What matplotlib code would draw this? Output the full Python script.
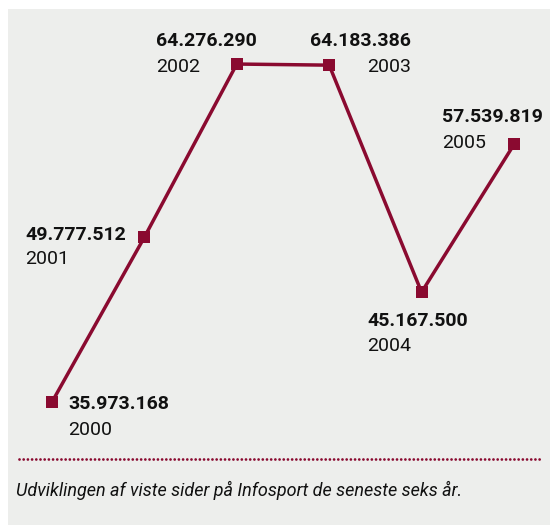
import matplotlib
matplotlib.use("Agg")
import matplotlib.pyplot as plt
from matplotlib.patches import Rectangle
from matplotlib.lines import Line2D

# data: viste sider pr. aar
years = [2000, 2001, 2002, 2003, 2004, 2005]
views = [35973168, 49777512, 64276290, 64183386, 45167500, 57539819]
labels = ["35.973.168", "49.777.512", "64.276.290", "64.183.386", "45.167.500", "57.539.819"]
caption = "Udviklingen af viste sider på Infosport de seneste seks år."

red = "#8a0a30"
plt.rcParams['font.family'] = ['Roboto', 'DejaVu Sans']

fig = plt.figure(figsize=(5.5, 5.25), dpi=100)
fig.patch.set_facecolor("white")

# grå baggrund
fig.patches.append(Rectangle((8 / 550, 0), 1, 1 - 9 / 525, transform=fig.transFigure,
                             facecolor="#edeeec", edgecolor="none", zorder=-5))

ax = fig.add_axes([0, 0, 1, 1])
ax.set_facecolor("none")
ax.axis("off")
ax.set_zorder(2)
ax.set_xlim(1999.437, 2005.39)
ax.set_ylim(25.67e6, 69.64e6)

ax.plot(years, views, color=red, lw=2.5, marker="s", markersize=8.5,
        markeredgewidth=0, solid_joinstyle="miter")

# label placering (pixels): (dx, dy tal, dy aar, ha)
offs = [(16, -2, -28, "left"), (-119, 2, -22, "left"), (-81, 23, -3, "left"),
        (82, 24, -2, "right"), (-54, -29, -54, "left"), (-72, 27, 1, "left")]
for yr, v, lab, (dx, dy1, dy2, ha) in zip(years, views, labels, offs):
    ax.annotate(lab, (yr, v), xytext=(dx, dy1), textcoords="offset pixels",
                ha=ha, va="center", fontsize=14, fontweight="bold", color="#111111")
    ax.annotate(str(yr), (yr, v), xytext=(dx, dy2), textcoords="offset pixels",
                ha=ha, va="center", fontsize=14, color="#111111")

# prikket linje og billedtekst
fig.add_artist(Line2D([19 / 550, 540 / 550], [1 - 459 / 525] * 2, transform=fig.transFigure,
                      color=red, lw=2.0, linestyle=(0, (0.01, 1.5)), dash_capstyle="round"))
fig.text(16 / 550, 1 - 490 / 525, caption, fontsize=13, style="italic",
         va="center", ha="left", color="#111111")

fig.savefig("out.png", dpi=100)
